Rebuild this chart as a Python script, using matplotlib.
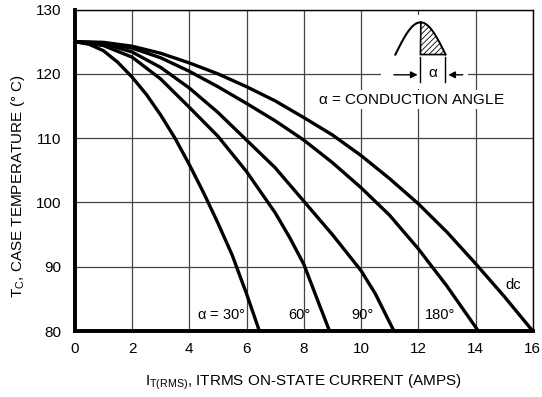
import matplotlib
matplotlib.use('Agg')
import matplotlib.pyplot as plt
import numpy as np
from matplotlib.patches import Rectangle, Polygon

plt.rcParams['font.family'] = ['Liberation Sans', 'DejaVu Sans']
plt.rcParams['mathtext.fontset'] = 'custom'
plt.rcParams['mathtext.rm'] = 'Liberation Sans'
plt.rcParams['mathtext.it'] = 'Liberation Sans'
plt.rcParams['hatch.linewidth'] = 0.6

# curves: current (A) vs case temperature (C)
x30 = [0, 0.5, 1.0, 1.5, 2.0, 2.5, 3.0, 3.5, 4.0, 4.5, 5.0, 5.5, 6.0, 6.45]
t30 = [125, 124.6, 123.6, 121.8, 119.5, 116.8, 113.6, 110.0, 105.9, 101.5, 96.8, 91.8, 85.8, 80]
x60 = [0, 1, 2, 3, 4, 5, 6, 7, 7.5, 8, 8.5, 8.9]
t60 = [125, 124.4, 122.6, 119.2, 114.8, 110.3, 104.8, 98.4, 94.6, 90.4, 84.6, 80]
x90 = [0, 1, 2, 3, 4, 5, 6, 7, 8, 9, 10, 10.5, 11.15]
t90 = [125, 124.7, 123.4, 121.0, 117.8, 114.0, 109.7, 105.4, 100.2, 95.0, 89.4, 85.8, 80]
x180 = [0, 1, 2, 3, 4, 5, 6, 7, 8, 9, 10, 11, 12, 13, 14.1]
t180 = [125, 124.8, 124.0, 122.5, 120.4, 118.0, 115.4, 112.7, 109.7, 106.2, 102.3, 98.0, 92.8, 87.0, 80]
xdc = [0, 1, 2, 3, 4, 5, 6, 7, 8, 9, 10, 11, 12, 13, 14, 15, 16]
tdc = [125, 124.9, 124.3, 123.2, 121.7, 120.0, 118.0, 115.8, 113.2, 110.5, 107.3, 103.7, 99.8, 95.4, 90.5, 85.4, 80]

curves = [(x30, t30), (x60, t60), (x90, t90), (x180, t180), (xdc, tdc)]
labels = [r'$\alpha$ = 30°', '60°', '90°', '180°', 'dc']
label_x = [5.95, 8.25, 10.45, 13.3, 15.3]
label_y = [82.5, 82.5, 82.5, 82.5, 87.2]

xticks = list(range(0, 17, 2))
yticks = list(range(80, 131, 10))

fig = plt.figure(figsize=(5.42, 3.97), dpi=100)
ax = fig.add_axes([0.138, 0.166, 0.845, 0.81])

for xs, ts in curves:
    ax.plot(xs, ts, color='black', lw=2.4, solid_capstyle='butt', zorder=3)

for lab, lx, ly in zip(labels, label_x, label_y):
    ha = 'center' if lab == 'dc' else 'right'
    ax.text(lx, ly, lab, ha=ha, va='center', fontsize=10.5, zorder=4)

ax.set_xlim(0, 16)
ax.set_ylim(80, 130)
ax.set_xticks(xticks)
ax.set_yticks(yticks)
ax.grid(True, color='#444444', lw=0.9)
ax.set_axisbelow(True)
ax.tick_params(length=0, labelsize=11)
ax.tick_params(axis='y', pad=10)
ax.tick_params(axis='x', pad=8)
for s in ['left', 'bottom']:
    ax.spines[s].set_linewidth(2.8)
for s in ['top', 'right']:
    ax.spines[s].set_linewidth(1.0)

ax.set_xlabel(r'I$_{\mathrm{T(RMS)}}$, ITRMS ON-STATE CURRENT (AMPS)', fontsize=11, labelpad=12)
ax.set_ylabel(r'T$_{\mathrm{C}}$, CASE TEMPERATURE (° C)', fontsize=11)
ax.yaxis.set_label_coords(-0.105, 0.45)

# conduction angle sketch (white box hides grid)
ax.add_patch(Rectangle((10.7, 117.6), 3.04, 11.6, facecolor='white', edgecolor='none', zorder=2))
x0, x1 = 11.2, 12.95
peak = 5.0
ph = np.linspace(0, np.pi, 60)
xa = x0 + (x1 - x0) * ph / np.pi
ya = 123.0 + peak * np.sin(ph)
ax.plot(xa, ya, color='black', lw=1.5, zorder=3)
xm = 0.5 * (x0 + x1)
half = xa >= xm
hatch_poly = np.column_stack([np.r_[xm, xa[half], x1], np.r_[123.0, ya[half], 123.0]])
ax.add_patch(Polygon(hatch_poly, closed=True, facecolor='white', edgecolor='black',
                     hatch='//////', lw=1.2, zorder=3))
ax.plot([xm, xm], [118.75, 122.6], color='black', lw=1.0, zorder=3)
ax.plot([x1, x1], [118.75, 122.6], color='black', lw=1.0, zorder=3)
ax.annotate('', xy=(xm, 119.85), xytext=(11.05, 119.85),
            arrowprops=dict(arrowstyle='-|>', color='black', lw=1.0, mutation_scale=10), zorder=3)
ax.annotate('', xy=(x1, 119.85), xytext=(13.65, 119.85),
            arrowprops=dict(arrowstyle='-|>', color='black', lw=1.0, mutation_scale=10), zorder=3)
ax.text(0.5 * (xm + x1), 120.2, r'$\alpha$', ha='center', va='center', fontsize=11, zorder=4)
ax.text(11.75, 116.0, r'$\alpha$ = CONDUCTION ANGLE', ha='center', va='center', fontsize=11,
        bbox=dict(facecolor='white', edgecolor='none', pad=1.5), zorder=4)

fig.savefig('out.png', dpi=100)
